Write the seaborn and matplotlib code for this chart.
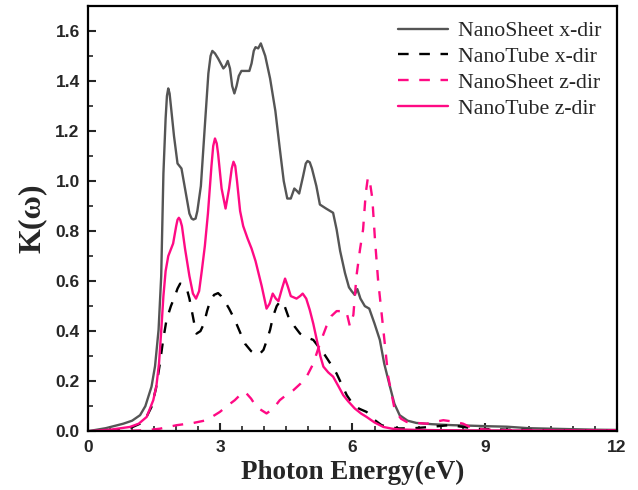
import seaborn as sns
import matplotlib.pyplot as plt
from matplotlib.ticker import MultipleLocator

# NanoSheet x-dir (gray solid)
e_sheet_x = [0, 0.4, 0.8, 1.0, 1.18, 1.3, 1.44, 1.52, 1.6, 1.66, 1.71, 1.76, 1.79, 1.82, 1.85, 1.88, 1.95, 2.03, 2.12, 2.2,
             2.3, 2.35, 2.39, 2.44, 2.48, 2.56, 2.65, 2.73, 2.78, 2.82, 2.88, 2.95, 3.07, 3.12, 3.17, 3.22, 3.27, 3.32, 3.37, 3.42,
             3.48, 3.66, 3.71, 3.76, 3.80, 3.86, 3.92, 4.02, 4.13, 4.25, 4.35, 4.44, 4.52, 4.60, 4.68, 4.74, 4.79, 4.88, 4.94, 4.98,
             5.03, 5.08, 5.18, 5.26, 5.40, 5.56, 5.64, 5.72, 5.83, 5.92, 5.98, 6.05, 6.11, 6.18, 6.28, 6.38, 6.50, 6.62, 6.72, 6.85,
             6.95, 7.07, 7.25, 7.45, 7.8, 8.28, 8.7, 9.04, 9.5, 10.0, 10.5, 11.0, 11.5, 12.0]
k_sheet_x = [0.0, 0.012, 0.03, 0.042, 0.064, 0.10, 0.178, 0.26, 0.405, 0.62, 1.03, 1.25, 1.34, 1.37, 1.35, 1.30, 1.18, 1.07, 1.05, 0.97,
             0.87, 0.85, 0.846, 0.85, 0.88, 0.98, 1.22, 1.43, 1.50, 1.52, 1.51, 1.49, 1.45, 1.46, 1.48, 1.45, 1.38, 1.35, 1.38, 1.42,
             1.44, 1.44, 1.47, 1.52, 1.535, 1.53, 1.55, 1.50, 1.41, 1.28, 1.13, 1.00, 0.93, 0.93, 0.97, 0.96, 0.95, 1.02, 1.07, 1.08,
             1.075, 1.05, 0.98, 0.906, 0.89, 0.873, 0.806, 0.72, 0.632, 0.575, 0.56, 0.545, 0.568, 0.53, 0.50, 0.49, 0.43, 0.365, 0.27, 0.178,
             0.11, 0.064, 0.042, 0.033, 0.028, 0.024, 0.022, 0.02, 0.018, 0.012, 0.01, 0.008, 0.006, 0.005]

# NanoTube x-dir (black dashed)
e_tube_x = [0, 0.45, 0.8, 1.0, 1.18, 1.32, 1.44, 1.54, 1.63, 1.70, 1.78, 1.88, 1.97, 2.03, 2.09, 2.17, 2.24, 2.30, 2.35, 2.41,
            2.46, 2.55, 2.63, 2.70, 2.77, 2.86, 2.95, 3.02, 3.1, 3.2, 3.33, 3.45, 3.56, 3.7, 3.82, 3.9, 3.98, 4.05, 4.13, 4.2,
            4.28, 4.34, 4.39, 4.46, 4.54, 4.68, 4.81, 4.96, 5.11, 5.24, 5.37, 5.5, 5.64, 5.76, 5.87, 6.0, 6.15, 6.32, 6.5, 6.66,
            6.85, 7.07, 7.4, 7.76, 8.0, 8.2, 8.35, 8.51, 8.8, 9.5, 10.5, 12.0]
k_tube_x = [0, 0.0, 0.008, 0.016, 0.03, 0.055, 0.097, 0.17, 0.27, 0.36, 0.445, 0.50, 0.54, 0.57, 0.59, 0.585, 0.57, 0.53, 0.485, 0.43,
            0.39, 0.40, 0.43, 0.48, 0.52, 0.545, 0.552, 0.54, 0.52, 0.49, 0.445, 0.395, 0.35, 0.32, 0.305, 0.31, 0.325, 0.36, 0.405, 0.46,
            0.50, 0.515, 0.52, 0.50, 0.46, 0.42, 0.39, 0.375, 0.365, 0.335, 0.305, 0.27, 0.23, 0.185, 0.144, 0.11, 0.09, 0.077, 0.045, 0.024,
            0.015, 0.011, 0.012, 0.017, 0.021, 0.024, 0.021, 0.017, 0.01, 0.006, 0.004, 0.003]

# NanoSheet z-dir (pink dashed)
e_sheet_z = [0.0, 0.45, 1.0, 1.33, 1.63, 2.01, 2.39, 2.69, 2.99, 3.15, 3.33, 3.45, 3.56, 3.7, 3.82, 4.05, 4.2, 4.35, 4.5, 4.66,
             4.82, 4.96, 5.11, 5.26, 5.41, 5.52, 5.64, 5.78, 5.86, 5.94, 6.02, 6.09, 6.17, 6.24, 6.30, 6.35, 6.40, 6.45, 6.51, 6.58,
             6.7, 6.81, 6.96, 7.1, 7.23, 7.45, 7.68, 7.9, 8.06, 8.3, 8.51, 8.74, 9.2, 10.0, 11.0, 12.0]
k_sheet_z = [0.0, 0.0, 0.002, 0.004, 0.01, 0.024, 0.033, 0.044, 0.077, 0.10, 0.124, 0.145, 0.158, 0.13, 0.097, 0.071, 0.09, 0.124, 0.145, 0.164,
             0.19, 0.218, 0.27, 0.35, 0.42, 0.46, 0.48, 0.48, 0.48, 0.42, 0.465, 0.62, 0.726, 0.806, 0.95, 1.015, 0.99, 0.93, 0.766, 0.605,
             0.405, 0.218, 0.084, 0.05, 0.037, 0.033, 0.03, 0.038, 0.044, 0.038, 0.03, 0.01, 0.005, 0.003, 0.003, 0.003]

# NanoTube z-dir (pink solid)
e_tube_z = [0, 0.5, 0.95, 1.15, 1.33, 1.48, 1.55, 1.61, 1.66, 1.71, 1.76, 1.82, 1.93, 2.0, 2.03, 2.06, 2.09, 2.13, 2.2, 2.3,
            2.38, 2.45, 2.52, 2.58, 2.65, 2.72, 2.8, 2.84, 2.88, 2.92, 2.95, 3.03, 3.12, 3.2, 3.26, 3.3, 3.34, 3.38, 3.45, 3.52,
            3.62, 3.71, 3.8, 3.94, 4.05, 4.12, 4.19, 4.26, 4.32, 4.4, 4.47, 4.53, 4.6, 4.73, 4.81, 4.87, 4.95, 5.03, 5.11, 5.19,
            5.27, 5.34, 5.45, 5.56, 5.68, 5.79, 5.9, 6.05, 6.2, 6.32, 6.5, 6.7, 6.9, 7.07, 7.5, 8.0, 9.0, 10.0, 11.0, 12.0]
k_tube_z = [0, 0.006, 0.017, 0.03, 0.057, 0.124, 0.18, 0.27, 0.40, 0.54, 0.64, 0.70, 0.75, 0.82, 0.845, 0.853, 0.845, 0.82, 0.73, 0.62,
            0.55, 0.53, 0.56, 0.64, 0.74, 0.87, 1.06, 1.14, 1.17, 1.15, 1.11, 0.97, 0.89, 0.97, 1.05, 1.077, 1.06, 1.0, 0.88, 0.82,
            0.77, 0.73, 0.68, 0.58, 0.49, 0.51, 0.55, 0.53, 0.52, 0.57, 0.61, 0.58, 0.54, 0.53, 0.54, 0.55, 0.53, 0.485, 0.43, 0.365,
            0.30, 0.258, 0.235, 0.218, 0.18, 0.144, 0.12, 0.091, 0.07, 0.057, 0.035, 0.017, 0.01, 0.007, 0.005, 0.004, 0.003, 0.003, 0.003, 0.003]

sns.set_style("ticks")
plt.rcParams['font.family'] = ['Liberation Serif', 'DejaVu Serif']

fig = plt.figure(figsize=(6.38, 4.9), dpi=100)
ax = fig.add_axes([0.138, 0.120, 0.829, 0.868])

gray = '#555555'
pink = '#ff0a84'
lw = 1.7
dash = (0, (4.5, 4.5))

sns.lineplot(x=e_sheet_x, y=k_sheet_x, ax=ax, sort=False, color=gray, lw=lw, label='NanoSheet x-dir')
sns.lineplot(x=e_tube_x, y=k_tube_x, ax=ax, sort=False, color='black', lw=lw, linestyle=dash, label='NanoTube x-dir')
sns.lineplot(x=e_sheet_z, y=k_sheet_z, ax=ax, sort=False, color=pink, lw=lw, linestyle=dash, label='NanoSheet z-dir')
sns.lineplot(x=e_tube_z, y=k_tube_z, ax=ax, sort=False, color=pink, lw=lw, label='NanoTube z-dir')

ax.set_xlim(0, 12)
ax.set_ylim(0, 1.70)
ax.xaxis.set_major_locator(MultipleLocator(3))
ax.xaxis.set_minor_locator(MultipleLocator(0.5))
ax.yaxis.set_major_locator(MultipleLocator(0.2))
ax.yaxis.set_minor_locator(MultipleLocator(0.1))
ax.yaxis.set_major_formatter(plt.FormatStrFormatter('%.1f'))
ax.tick_params(which='major', direction='in', length=6, width=1.5, pad=6)
ax.tick_params(which='minor', direction='in', length=3.5, width=1.2)
for lab in ax.get_xticklabels() + ax.get_yticklabels():
    lab.set_fontfamily('Liberation Sans')
    lab.set_fontweight('bold')
    lab.set_fontsize(12.5)
for sp in ax.spines.values():
    sp.set_linewidth(1.6)
    sp.set_color('black')

ax.set_xlabel('Photon Energy(eV)', fontsize=19.5, fontweight='bold', labelpad=4)
ax.set_ylabel('K(ω)', fontsize=23, fontweight='bold', labelpad=6)

ax.legend(loc='upper right', frameon=False, fontsize=15.7, handlelength=2.3,
          handletextpad=0.45, labelspacing=0.25, borderaxespad=0.3)

fig.savefig('out.png', dpi=100)
